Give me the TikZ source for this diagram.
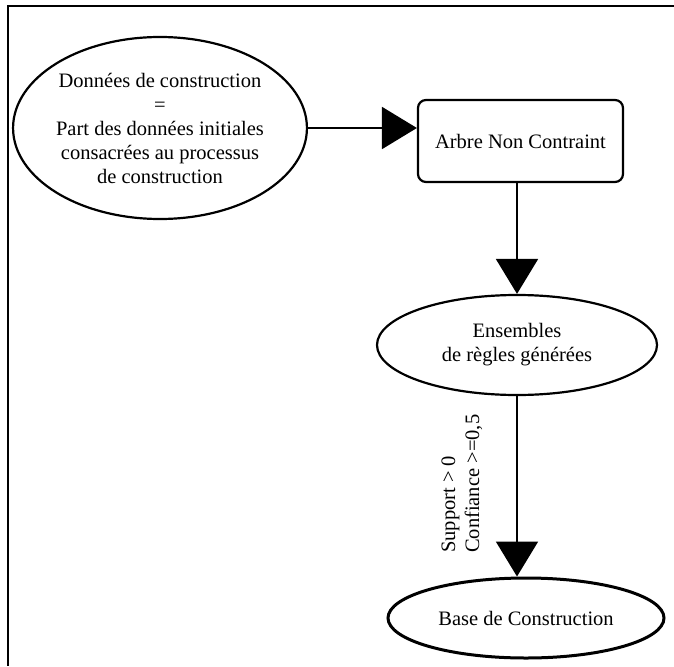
\documentclass[tikz,border=0pt]{standalone}
\usepackage{fontspec}
\setmainfont{Liberation Serif}
\usetikzlibrary{arrows.meta,shapes.geometric}

\tikzset{
  every node/.style={font=\fontsize{20.5}{24}\selectfont},
  oval/.style={draw, ellipse, line width=2.2pt, inner sep=0pt, align=center},
  box/.style={draw, rectangle, rounded corners=8pt, line width=2.2pt, align=center},
  arr/.style={line width=2pt, -{Triangle[length=35pt,width=42pt]}},
  frame/.style={line width=1.5pt}
}

\begin{document}
\begin{tikzpicture}[x=1pt,y=-1pt]
  \useasboundingbox (0,0) rectangle (674,666);
  \fill[white] (0,0) rectangle (674,666);

  % frame edges
  \coordinate (fa) at (674,6);
  \coordinate (fb) at (8,6);
  \coordinate (fc) at (8,666);
  \draw[frame] (fa) -- (fb) -- (fc);

  % nodes
  \node[oval, minimum width=272pt, minimum height=182pt] (e1) at (160,128)
    {Données de construction\\=\\Part des données initiales\\consacrées au processus\\de construction};
  \node[box, minimum width=205pt, minimum height=82pt] (r) at (520.5,141)
    {Arbre Non Contraint};
  \node[oval, minimum width=280pt, minimum height=100pt] (e2) at (517,345)
    {Ensembles\\de règles générées};
  \node[oval, line width=3pt, minimum width=276pt, minimum height=80pt] (e3) at (526,618)
    {Base de Construction};

  % connectors
  \draw[arr] (e1.east) -- (e1.east -| r.west);
  \draw[arr] (r.south -| e2.north) -- (e2.north);
  \draw[arr] (e2.south) -- (e2.south |- e3.north);

  % label of the last connector
  \node[rotate=90, anchor=west, align=left, inner sep=0pt] (lbl) at (462,553)
    {Support > 0\\Confiance >=0,5};
\end{tikzpicture}
\end{document}
